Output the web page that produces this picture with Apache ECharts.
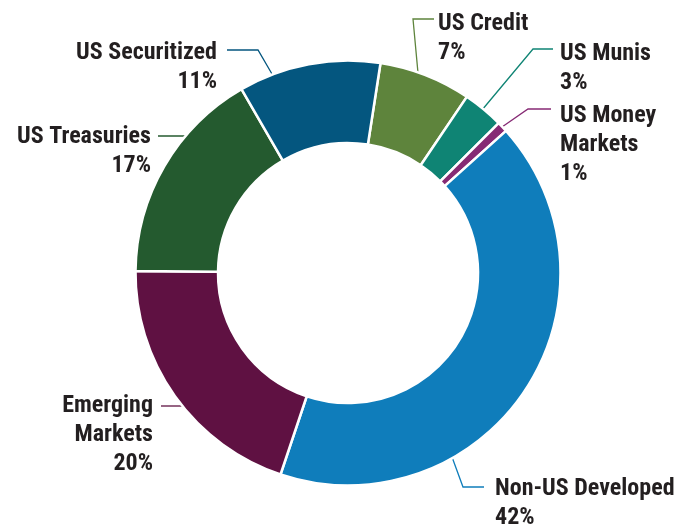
<!DOCTYPE html>
<html>
<head>
<meta charset="utf-8">
<script src="https://cdn.jsdelivr.net/npm/echarts@6/dist/echarts.min.js"></script>
<style>
* { margin: 0; padding: 0; }
#chart-container { width: 697px; height: 529px; background: #fff; }
</style>
</head>
<body>
<div id="chart-container"></div>
<script>
// slices in clockwise order, starting just right of 12 o'clock
const categories = ['US Credit', 'US Munis', 'US Money Markets', 'Non-US Developed', 'Emerging Markets', 'US Treasuries', 'US Securitized']
// slice sizes as measured off the ring (the printed labels are rounded)
const shares = [7, 3.1, 0.8, 41.8, 20, 16.5, 10.8]
// percentages as printed on the chart
const pctLabels = ['7%', '3%', '1%', '42%', '20%', '17%', '11%']

const palette = ['#5e843c', '#0f8474', '#862a74', '#0f7dbb', '#5f1142', '#245a2f', '#04567f']

// where each label sits and how its leader line runs (anchor -> elbow -> text)
const labelSpots = [
  { x: 438, y: 9, align: 'left', line: [[418, 73], [413, 19], [434, 19]] },
  { x: 560, y: 39, align: 'left', line: [[482, 110], [533, 49], [553, 49]] },
  { x: 560, y: 101, align: 'left', line: [[502, 127], [528, 109], [551, 109]] },
  { x: 495, y: 474, align: 'left', line: [[452, 457], [463, 487], [484, 487]] },
  { x: 153, y: 391, align: 'right', line: [[183, 406], [172, 406], [161, 406]] },
  { x: 151, y: 122, align: 'right', line: [[207, 136], [180, 136], [158, 136]] },
  { x: 217, y: 38, align: 'right', line: [[272, 74], [258, 50], [227, 50]] }
]

const wrapName = (name) => name.replace(' Markets', '\nMarkets')

const chartDom = document.getElementById('chart-container')
const myChart = echarts.init(chartDom)

const option = {
  animation: false,
  color: palette,
  series: [
    {
      type: 'pie',
      center: [348, 273],
      radius: [130, 212.5],
      startAngle: 81.2,
      clockwise: true,
      avoidLabelOverlap: false,
      itemStyle: {
        borderColor: '#fff',
        borderWidth: 2.5
      },
      label: {
        show: true,
        position: 'outside',
        color: '#231f20',
        fontFamily: '"Roboto Condensed", "Liberation Sans Narrow", Roboto, sans-serif',
        fontWeight: 'bold',
        fontSize: 24,
        lineHeight: 29,
        formatter: (p) => wrapName(p.name) + '\n' + pctLabels[p.dataIndex]
      },
      labelLine: {
        show: true,
        length: 10,
        length2: 10,
        smooth: false,
        lineStyle: { width: 1.3 }
      },
      labelLayout: (params) => {
        const s = labelSpots[params.dataIndex]
        return {
          x: s.x,
          y: s.y,
          align: s.align,
          verticalAlign: 'top',
          labelLinePoints: s.line
        }
      },
      emphasis: { disabled: true },
      data: categories.map((name, i) => ({ name: name, value: shares[i] }))
    }
  ]
}

myChart.setOption(option)
</script>
</body>
</html>
